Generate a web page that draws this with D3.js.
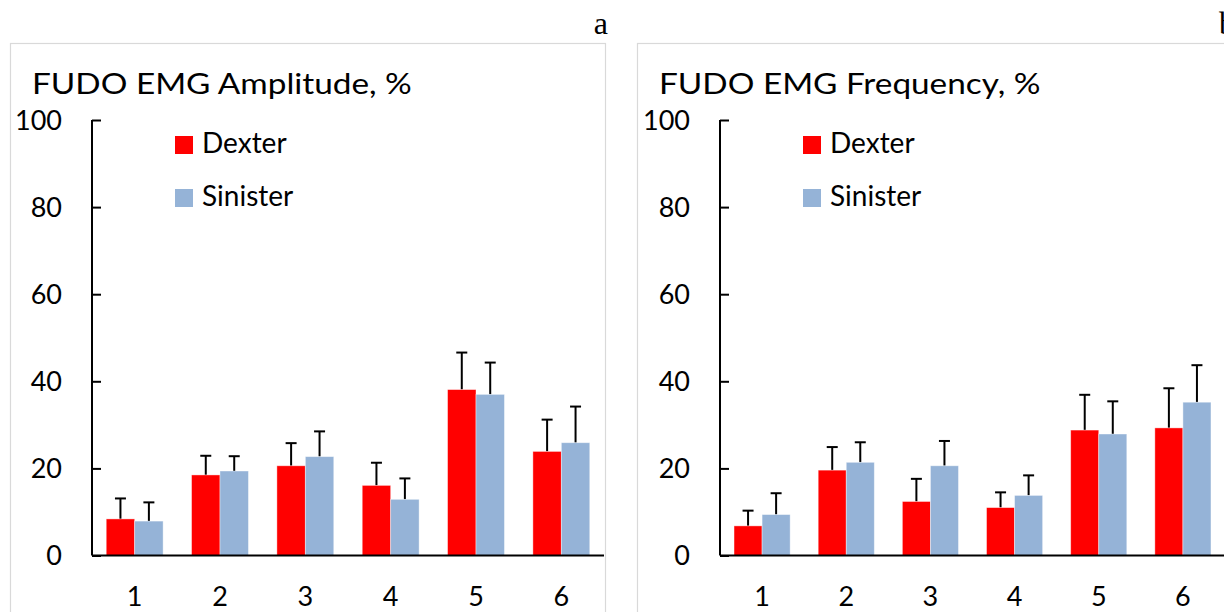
<!DOCTYPE html>
<html>
<head>
<meta charset="utf-8">
<script src="https://cdn.jsdelivr.net/npm/d3@7"></script>
<style>
  body { margin: 0; background: #fff; }
  text { font-family: Lato, "Open Sans", sans-serif; fill: #000; }
</style>
</head>
<body>
<div id="chart"></div>
<script>
// values (means and upper SD)
var categories = ["1", "2", "3", "4", "5", "6"];
var series = ["Dexter", "Sinister"];
var yTicks = [0, 20, 40, 60, 80, 100];

var ampDexter = [8.4, 18.5, 20.6, 16.1, 38.1, 23.9];
var ampDexterErr = [4.7, 4.4, 5.2, 5.2, 8.5, 7.3];
var ampSinister = [7.9, 19.4, 22.7, 12.9, 37.0, 25.9];
var ampSinisterErr = [4.3, 3.4, 5.8, 4.8, 7.3, 8.3];

var freqDexter = [6.8, 19.6, 12.4, 11.0, 28.8, 29.3];
var freqDexterErr = [3.5, 5.3, 5.2, 3.5, 8.1, 9.1];
var freqSinister = [9.4, 21.4, 20.6, 13.8, 27.9, 35.2];
var freqSinisterErr = [4.9, 4.6, 5.7, 4.6, 7.5, 8.5];

var color = d3.scaleOrdinal().domain(series).range(["#ff0000", "#95b3d7"]);

var width = 1224,
    height = 612;

var svg = d3.select("#chart")
    .append("svg")
    .attr("width", width)
    .attr("height", height);

svg.append("rect")
    .attr("width", width)
    .attr("height", height)
    .attr("fill", "#fff");

var y = d3.scaleLinear()
    .domain([0, 100])
    .range([555.5, 120]);

function drawPanel(cfg) {
  var g = svg.append("g");

  // chart frame
  g.append("rect")
      .attr("x", cfg.frameX + 0.5)
      .attr("y", 43.5)
      .attr("width", 595)
      .attr("height", 620)
      .attr("fill", "none")
      .attr("stroke", "#d9d9d9")
      .attr("stroke-width", 1.2);

  g.append("text")
      .attr("x", cfg.frameX + 595 + 3)
      .attr("y", 34)
      .attr("text-anchor", "end")
      .style("font-family", "'Liberation Serif', 'DejaVu Serif', serif")
      .style("font-size", "32px")
      .text(cfg.letter);

  // title is stretched a bit, like the source picture
  var title = g.append("text")
      .attr("x", cfg.frameX + 22)
      .attr("y", 94)
      .style("font-size", "28px")
      .text(cfg.title);
  var tw = title.node().getComputedTextLength();
  title.attr("textLength", tw * 1.19).attr("lengthAdjust", "spacingAndGlyphs");

  var x = d3.scaleBand()
      .domain(categories)
      .range([cfg.x0, cfg.x1])
      .paddingInner(1 / 3)
      .paddingOuter(1 / 6);

  var xs = d3.scaleBand()
      .domain(series)
      .range([0, x.bandwidth()]);

  var rows = categories.map(function(c, i) {
    return {
      cat: c,
      bars: [
        { s: "Dexter", v: cfg.dexter[i], e: cfg.dexterErr[i] },
        { s: "Sinister", v: cfg.sinister[i], e: cfg.sinisterErr[i] }
      ]
    };
  });

  var groups = g.selectAll(".grp")
      .data(rows)
    .enter().append("g")
      .attr("class", "grp")
      .attr("transform", function(d) { return "translate(" + x(d.cat) + ",0)"; });

  // error bars first so the bar covers the lower half
  var err = groups.selectAll(".err")
      .data(function(d) { return d.bars; })
    .enter().append("g")
      .attr("class", "err")
      .attr("stroke", "#000")
      .attr("stroke-width", 2);

  err.append("line")
      .attr("x1", function(d) { return xs(d.s) + xs.bandwidth() / 2; })
      .attr("x2", function(d) { return xs(d.s) + xs.bandwidth() / 2; })
      .attr("y1", function(d) { return y(d.v); })
      .attr("y2", function(d) { return y(d.v + d.e); });

  err.append("line")
      .attr("x1", function(d) { return xs(d.s) + xs.bandwidth() / 2 - 5.5; })
      .attr("x2", function(d) { return xs(d.s) + xs.bandwidth() / 2 + 5.5; })
      .attr("y1", function(d) { return y(d.v + d.e); })
      .attr("y2", function(d) { return y(d.v + d.e); });

  groups.selectAll(".bar")
      .data(function(d) { return d.bars; })
    .enter().append("rect")
      .attr("class", "bar")
      .attr("x", function(d) { return xs(d.s); })
      .attr("width", xs.bandwidth())
      .attr("y", function(d) { return y(d.v); })
      .attr("height", function(d) { return y(0) - y(d.v); })
      .attr("fill", function(d) { return color(d.s); })
      .attr("stroke", "#fff")
      .attr("stroke-opacity", 0.5)
      .attr("stroke-width", 0.8);

  // y axis, ticks pointing inwards
  var yAxis = g.append("g")
      .attr("transform", "translate(" + cfg.x0 + ",0)")
      .call(d3.axisRight(y).tickValues(yTicks).tickSize(9).tickFormat(""));
  yAxis.selectAll("path, line").attr("stroke", "#000").attr("stroke-width", 2);
  yAxis.select(".domain").attr("d", "M0," + y(0) + "V" + y(100));

  g.selectAll(".ylab")
      .data(yTicks)
    .enter().append("text")
      .attr("class", "ylab")
      .attr("x", cfg.x0 - 30)
      .attr("y", function(d) { return y(d); })
      .attr("dy", "0.36em")
      .attr("text-anchor", "end")
      .style("font-size", "27px")
      .text(function(d) { return d; });

  // x axis
  var xAxis = g.append("g")
      .attr("transform", "translate(0," + y(0) + ")")
      .call(d3.axisBottom(x).tickSize(0).tickPadding(31));
  xAxis.select(".domain")
      .attr("stroke", "#000")
      .attr("stroke-width", 2)
      .attr("d", "M" + cfg.x0 + ",0H" + cfg.x1);
  xAxis.selectAll("text")
      .style("font-family", "Lato, sans-serif")
      .style("font-size", "27px")
      .attr("fill", "#000")
      .attr("dy", "0.71em");

  // legend
  var leg = g.selectAll(".leg")
      .data(series)
    .enter().append("g")
      .attr("class", "leg")
      .attr("transform", function(d, i) { return "translate(" + (cfg.x0 + 83) + "," + (136 + i * 53) + ")"; });

  leg.append("rect")
      .attr("width", 18)
      .attr("height", 18)
      .attr("fill", function(d) { return color(d); });

  leg.append("text")
      .attr("x", 27)
      .attr("y", 17)
      .style("font-size", "28px")
      .text(function(d) { return d; });
}

drawPanel({
  frameX: 10, x0: 92, x1: 604, letter: "a",
  title: "FUDO EMG Amplitude, %",
  dexter: ampDexter, dexterErr: ampDexterErr,
  sinister: ampSinister, sinisterErr: ampSinisterErr
});

drawPanel({
  frameX: 637, x0: 720, x1: 1225, letter: "b",
  title: "FUDO EMG Frequency, %",
  dexter: freqDexter, dexterErr: freqDexterErr,
  sinister: freqSinister, sinisterErr: freqSinisterErr
});
</script>
</body>
</html>
